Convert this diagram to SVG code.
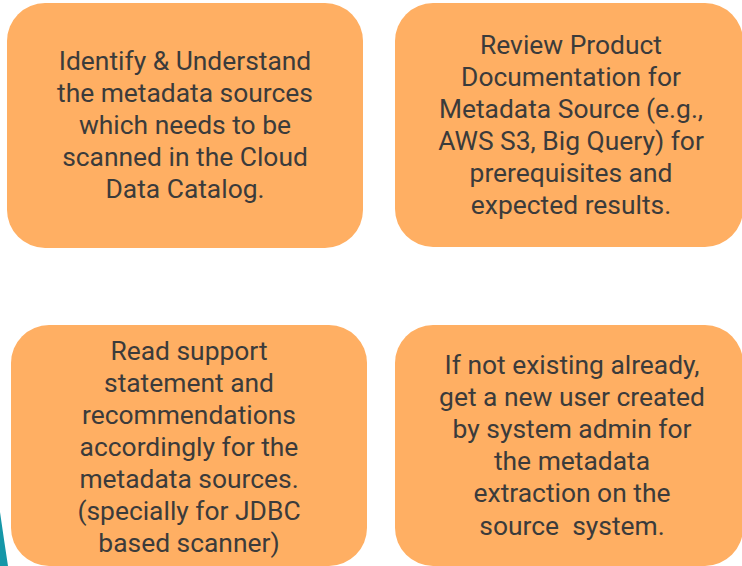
<svg xmlns="http://www.w3.org/2000/svg" width="742" height="566" viewBox="0 0 742 566">
<style>
.box{fill:#FFAF63;}
.t{font-family:Roboto,"Liberation Sans",sans-serif;font-size:26.4px;fill:#3b3b3b;text-anchor:middle;}
</style>
<rect x="0" y="0" width="742" height="566" fill="#ffffff"/>
<path d="M0,512 Q4,540 8,566 L0,566 Z" fill="#1597A8"/>
<g id="node1">
<rect class="box" x="7" y="3" width="356" height="245" rx="38" ry="38"/>
<text class="t" x="185" y="70">Identify &amp; Understand</text>
<text class="t" x="185" y="102">the metadata sources</text>
<text class="t" x="185" y="134">which needs to be</text>
<text class="t" x="185" y="166">scanned in the Cloud</text>
<text class="t" x="185" y="198">Data Catalog.</text>
</g>
<g id="node2">
<rect class="box" x="395" y="3" width="348" height="244" rx="38" ry="38"/>
<text class="t" x="571" y="54">Review Product</text>
<text class="t" x="571" y="86">Documentation for</text>
<text class="t" x="571" y="118">Metadata Source (e.g.,</text>
<text class="t" x="571" y="150">AWS S3, Big Query) for</text>
<text class="t" x="571" y="182">prerequisites and</text>
<text class="t" x="571" y="214">expected results.</text>
</g>
<g id="node3">
<rect class="box" x="11" y="325" width="356" height="241" rx="38" ry="38"/>
<text class="t" x="189" y="360">Read support</text>
<text class="t" x="189" y="392">statement and</text>
<text class="t" x="189" y="424">recommendations</text>
<text class="t" x="189" y="456">accordingly for the</text>
<text class="t" x="189" y="488">metadata sources.</text>
<text class="t" x="189" y="520">(specially for JDBC</text>
<text class="t" x="189" y="552">based scanner)</text>
</g>
<g id="node4">
<rect class="box" x="395" y="325" width="348" height="241" rx="38" ry="38"/>
<text class="t" x="572" y="374">If not existing already,</text>
<text class="t" x="572" y="406">get a new user created</text>
<text class="t" x="572" y="438">by system admin for</text>
<text class="t" x="572" y="470">the metadata</text>
<text class="t" x="572" y="502">extraction on the</text>
<text class="t" x="572" y="535" xml:space="preserve">source  system.</text>
</g>
<g id="connectors"></g>
</svg>
